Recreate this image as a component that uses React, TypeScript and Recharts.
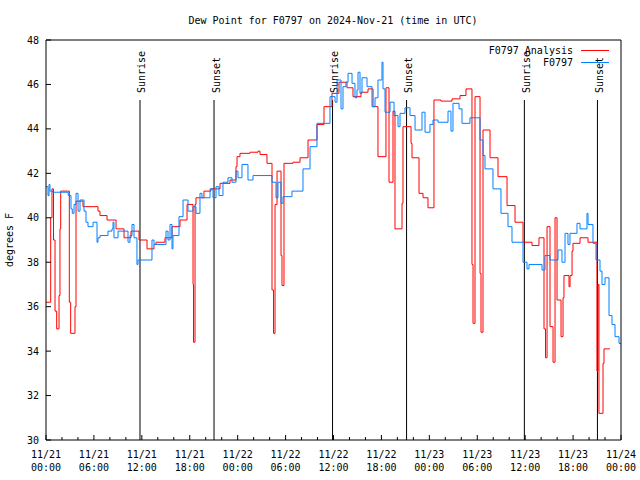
import { ComposedChart, Line, XAxis, YAxis, ReferenceLine } from "recharts";

const FONT = "'DejaVu Sans Mono', monospace";

// hours since 11/21 00:00 UTC
const analysisHours = [
  0, 0.59, 0.75, 0.94, 1.13, 1.34, 1.63, 1.75, 1.84, 2.92, 3.09, 3.63, 3.76, 4.63, 6.51, 6.76,
  7.64, 8.77, 9.77, 10.64, 11.65, 12.65, 13.52, 13.77, 14.9, 15.78, 16.78, 17.66, 18.41, 18.47,
  18.66, 18.78, 19.78, 20.66, 21.79, 23.04, 23.79, 23.92, 24.29, 25.55, 26.55, 26.8, 27.67, 28.3,
  28.49, 28.68, 28.93, 29.43, 29.55, 29.8, 30.93, 31.81, 32.81, 33.93, 34.81, 35.81, 36.69, 37.69,
  38.44, 39.44, 40.32, 40.95, 41.57, 42.57, 42.95, 43.45, 43.7, 44.58, 44.7, 45.71, 45.83, 46.71,
  47.21, 47.83, 48.58, 49.46, 50.84, 51.84, 52.59, 53.34, 53.47, 53.72, 54.35, 54.47, 54.72, 55.6,
  56.6, 57.73, 58.73, 59.73, 60.86, 61.73, 62.36, 62.55, 62.74, 63.11, 63.49, 63.74, 63.99, 64.49,
  64.74, 64.86, 65.49, 65.62, 65.87, 65.99, 66.87, 67.87, 68.99, 69.12, 69.24, 69.75, 69.87, 70.62,
];
const analysisValues = [
  36.2, 40.0, 41.3, 39.0, 35.8, 35.0, 36.5, 39.5, 41.2, 36.2, 34.8, 36.0, 40.75, 40.5, 40.3, 40.1,
  39.9, 39.5, 39.1, 39.4, 39.0, 38.6, 38.8, 38.9, 39.1, 39.6, 39.9, 40.6, 37.0, 34.4,
  40.6, 40.9, 41.2, 41.3, 41.55, 41.7, 42.3, 42.75, 42.9, 42.95, 43.0, 42.85, 42.45, 36.75,
  34.8, 40.6, 42.1, 38.3, 36.95, 42.45, 42.5, 42.7, 43.5, 44.2, 45.0, 45.6, 46.1, 45.85,
  45.45, 45.65, 45.8, 45.0, 42.75, 45.85, 41.6, 44.8, 39.5, 40.65, 44.1, 43.35, 42.7, 41.1,
  40.9, 40.45, 45.3, 45.25, 45.35, 45.5, 45.8, 37.9, 35.25, 45.45, 37.5, 34.85, 43.95, 42.7,
  41.85, 40.55, 39.8, 38.9, 38.75, 39.1, 35.0, 33.7, 39.6, 35.1, 33.5, 40.0, 36.3, 34.65,
  36.4, 37.4, 36.9, 37.4, 38.5, 38.85, 39.1, 38.9, 33.1, 37.0, 31.2, 33.45, 34.1, 34.1,
];

const obsHours = [
  0, 0.25, 0.38, 0.5, 0.84, 2.79, 3.13, 3.29, 3.51, 3.76, 4.01, 4.26, 4.76, 5.01, 5.26, 5.89,
  6.39, 6.51, 6.76, 7.76, 8.26, 8.39, 8.51, 9.02, 10.27, 10.52, 10.77, 11.02, 11.39, 11.52, 13.27,
  13.52, 15.03, 15.28, 15.53, 15.78, 15.9, 16.65, 17.16, 17.78, 18.41, 18.78, 19.28, 19.53, 20.54,
  20.91, 21.29, 21.66, 22.16, 22.79, 23.29, 23.79, 24.04, 24.54, 25.29, 25.92, 28.3, 28.8, 29.05,
  29.43, 29.68, 30.8, 32.18, 33.06, 33.93, 35.56, 36.19, 36.44, 36.94, 37.19, 37.56, 37.82, 38.32,
  38.69, 38.94, 39.07, 39.32, 39.57, 40.2, 40.82, 41.2, 41.57, 42.07, 42.2, 42.45, 43.08, 43.58,
  44.08, 44.33, 44.95, 45.58, 46.21, 47.08, 47.46, 48.08, 48.46, 49.09, 50.34, 50.71, 50.96, 51.72,
  52.09, 53.09, 54.35, 54.72, 54.97, 55.97, 56.97, 57.85, 58.35, 59.73, 60.23, 60.48, 62.11, 62.48,
  63.11, 64.11, 64.61, 64.99, 65.36, 65.61, 66.49, 66.87, 67.74, 67.87, 68.49, 68.87, 69.37, 69.62,
  70.0, 70.5, 70.87, 71.25, 71.75, 72,
];
const obsValues = [
  41.4, 41.0, 41.5, 41.2, 41.15, 41.0, 40.4, 40.2, 40.6, 41.1, 40.3, 40.8, 40.3, 39.8, 39.6, 39.8,
  38.9, 39.1, 39.2, 39.4, 39.5, 39.8, 39.1, 39.4, 38.9, 39.2, 39.7, 39.1, 37.9, 38.1, 39.0,
  38.8, 39.4, 39.0, 39.7, 38.6, 39.2, 40.05, 40.8, 40.3, 40.5, 40.2, 41.1, 40.9, 41.3,
  40.9, 41.4, 41.0, 41.6, 41.8, 41.6, 42.1, 41.8, 42.4, 41.7, 41.9, 41.6, 40.9, 41.6,
  40.65, 40.95, 41.2, 42.2, 43.2, 44.25, 45.45, 45.2, 46.2, 44.9, 45.9, 46.1, 46.5, 46.05,
  45.4, 45.75, 46.55, 45.6, 46.3, 45.9, 45.0, 45.4, 46.2, 47.0, 45.8, 44.75, 45.2, 44.6,
  44.1, 44.7, 44.95, 44.6, 43.95, 44.75, 43.85, 44.2, 44.4, 44.3, 44.8, 43.9, 45.15, 44.9,
  44.25, 44.5, 43.5, 42.8, 42.2, 41.3, 40.2, 39.6, 38.9, 38.0, 37.7, 37.9, 37.65, 38.3,
  38.1, 38.55, 38.0, 39.3, 38.8, 39.3, 39.75, 39.5, 40.2, 39.7, 38.85, 38.1, 37.6, 37.0,
  37.3, 35.6, 35.2, 34.65, 34.35, 34.3,
];

const sunHours = [11.77, 21.04, 35.88, 45.15, 59.9, 69.05];
const sunNames = ["Sunrise", "Sunset", "Sunrise", "Sunset", "Sunrise", "Sunset"];

const xTicks = [0, 2, 4, 6, 8, 10, 12, 14, 16, 18, 20, 22, 24, 26, 28, 30, 32, 34, 36, 38, 40, 42, 44, 46, 48, 50, 52, 54, 56, 58, 60, 62, 64, 66, 68, 70, 72];
const yTicks = [30, 32, 34, 36, 38, 40, 42, 44, 46, 48];

const analysisData = analysisHours.map((t, i) => ({ t, v: analysisValues[i] }));
const obsData = obsHours.map((t, i) => ({ t, v: obsValues[i] }));

const BottomTick = ({ x, y, payload }: any) => {
  const h = payload.value;
  const major = h % 6 === 0;
  const day = 21 + Math.floor(h / 24);
  const hh = String(h % 24).padStart(2, "0");
  return (
    <g>
      <line x1={x} y1={y} x2={x} y2={y - (major ? 5 : 3)} stroke="#000" />
      {major && (
        <text x={x} y={y + 18} textAnchor="middle" fontSize={10} fontFamily={FONT} fill="#000">
          <tspan x={x}>{`11/${day}`}</tspan>
          <tspan x={x} dy={13}>{`${hh}:00`}</tspan>
        </text>
      )}
    </g>
  );
};

const TopTick = ({ x, y, payload }: any) => (
  <line x1={x} y1={y} x2={x} y2={y + (payload.value % 6 === 0 ? 5 : 3)} stroke="#000" />
);

const LeftTick = ({ x, y, payload }: any) => (
  <g>
    <line x1={x} y1={y} x2={x + 5} y2={y} stroke="#000" />
    <text x={x - 7} y={y} dy={3.5} textAnchor="end" fontSize={10} fontFamily={FONT} fill="#000">
      {payload.value}
    </text>
  </g>
);

const RightTick = ({ x, y }: any) => <line x1={x} y1={y} x2={x - 5} y2={y} stroke="#000" />;

const SunLabel = ({ viewBox, text }: any) => {
  if (!viewBox) return null;
  const lx = viewBox.x + 2;
  const ly = viewBox.y - 7;
  return (
    <text
      x={lx}
      y={ly}
      dy={3.5}
      transform={`rotate(-90 ${lx} ${ly})`}
      textAnchor="start"
      fontSize={10}
      fontFamily={FONT}
      fill="#000"
    >
      {text}
    </text>
  );
};

export default function App() {
  return (
    <div style={{ position: "absolute", left: 0, top: 0, width: 640, height: 480, background: "#fff", fontFamily: FONT }}>
      <ComposedChart width={640} height={480} margin={{ top: 0, right: 0, bottom: 0, left: 0 }}>
        <XAxis
          dataKey="t"
          type="number"
          domain={[0, 72]}
          ticks={xTicks}
          interval={0}
          height={40}
          tickSize={0}
          tickMargin={0}
          tick={<BottomTick />}
          axisLine={{ stroke: "#000" }}
          allowDataOverflow
        />
        <XAxis
          xAxisId="top"
          orientation="top"
          type="number"
          domain={[0, 72]}
          ticks={xTicks}
          interval={0}
          height={40}
          tickSize={0}
          tickMargin={0}
          tick={<TopTick />}
          axisLine={{ stroke: "#000" }}
        />
        <YAxis
          type="number"
          domain={[30, 48]}
          ticks={yTicks}
          interval={0}
          width={46}
          tickSize={0}
          tickMargin={0}
          tick={<LeftTick />}
          axisLine={{ stroke: "#000" }}
          allowDataOverflow
        />
        <YAxis
          yAxisId="right"
          orientation="right"
          type="number"
          domain={[30, 48]}
          ticks={yTicks}
          interval={0}
          width={19}
          tickSize={0}
          tickMargin={0}
          tick={<RightTick />}
          axisLine={{ stroke: "#000" }}
        />
        {sunHours.map((h, i) => (
          <ReferenceLine
            key={i}
            segment={[{ x: h, y: 30 }, { x: h, y: 45.3 }]}
            stroke="#000"
            strokeWidth={1}
            label={<SunLabel text={sunNames[i]} />}
          />
        ))}
        <Line
          data={analysisData}
          dataKey="v"
          name="F0797 Analysis"
          type="stepAfter"
          stroke="#ff0000"
          strokeWidth={1}
          dot={false}
          activeDot={false}
          isAnimationActive={false}
        />
        <Line
          data={obsData}
          dataKey="v"
          name="F0797"
          type="stepAfter"
          stroke="#0080ff"
          strokeWidth={1}
          dot={false}
          activeDot={false}
          isAnimationActive={false}
        />
      </ComposedChart>
      <svg width={640} height={480} style={{ position: "absolute", left: 0, top: 0, pointerEvents: "none" }}>
        <text x={333} y={24} textAnchor="middle" fontSize={10} fontFamily={FONT} fill="#000">
          Dew Point for F0797 on 2024-Nov-21 (time in UTC)
        </text>
        <text x={13} y={240} transform="rotate(-90 13 240)" textAnchor="middle" fontSize={10} fontFamily={FONT} fill="#000">
          degrees F
        </text>
        <text x={573} y={54} textAnchor="end" fontSize={10} fontFamily={FONT} fill="#000">
          F0797 Analysis
        </text>
        <line x1={581} y1={50.5} x2={609} y2={50.5} stroke="#ff0000" />
        <text x={573} y={66} textAnchor="end" fontSize={10} fontFamily={FONT} fill="#000">
          F0797
        </text>
        <line x1={581} y1={62.5} x2={609} y2={62.5} stroke="#0080ff" />
      </svg>
    </div>
  );
}
